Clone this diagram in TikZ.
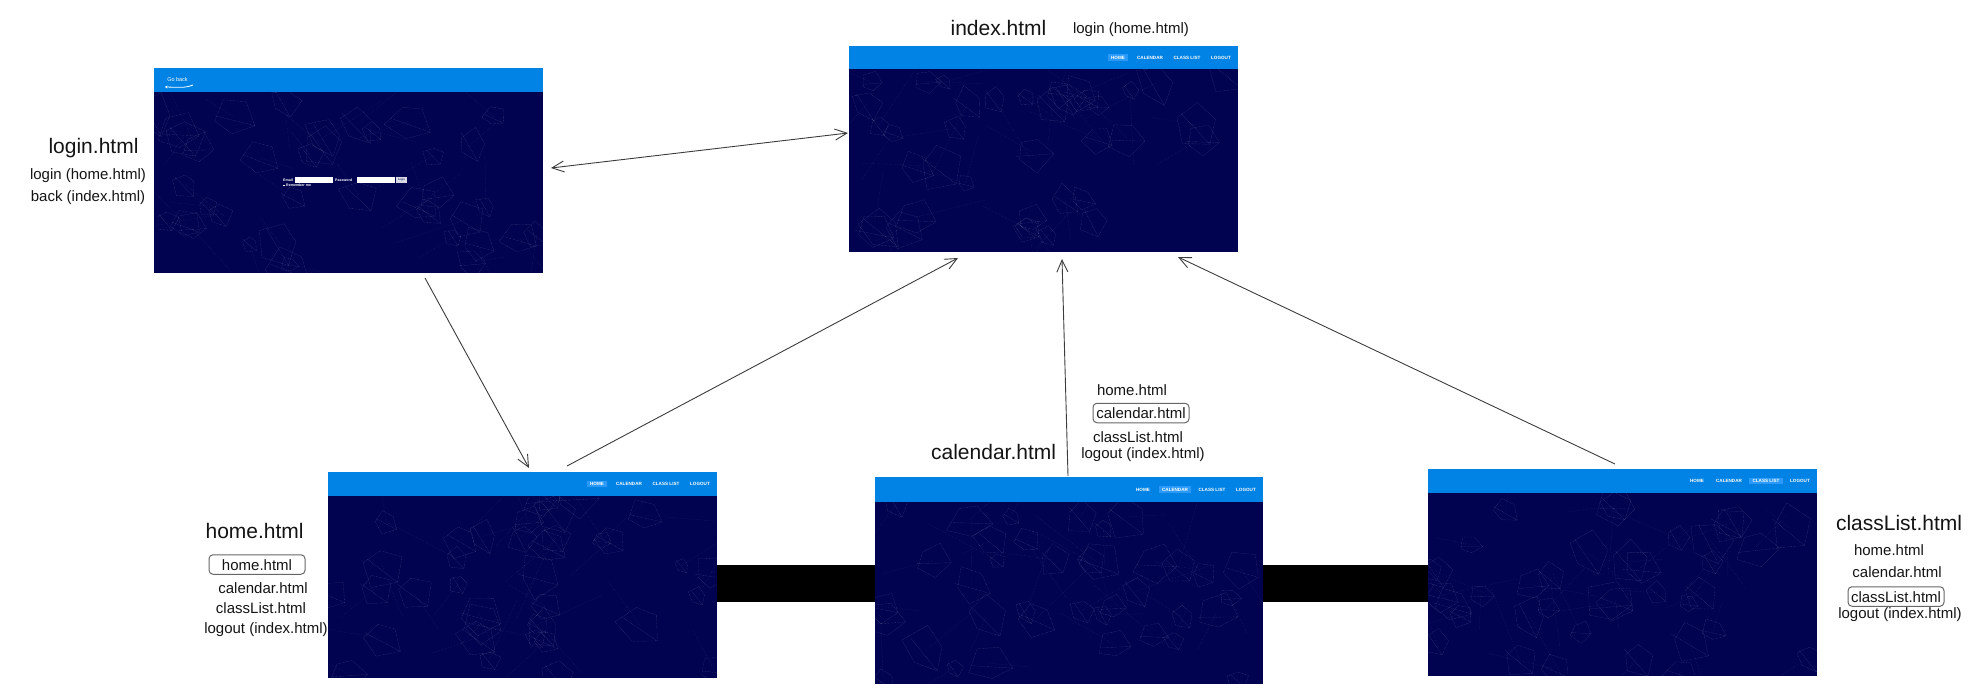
\documentclass[tikz,border=0pt]{standalone}
\usepackage{fontspec}
\setmainfont{Liberation Sans}
\usetikzlibrary{calc,arrows.meta}
\definecolor{navy}{RGB}{1,2,80}
\definecolor{hdrblue}{RGB}{0,131,228}
\definecolor{actblue}{RGB}{42,153,250}
\definecolor{lnk}{RGB}{60,60,60}
\tikzset{
  screen/.style={fill=navy, draw=none, inner sep=0pt, outer sep=0pt, anchor=north west},
  net/.style={draw=white, draw opacity=0.2, line width=0.35pt, dash pattern=on 0.7pt off 0.7pt},
  netlong/.style={draw=white, draw opacity=0.12, line width=0.3pt, dash pattern=on 0.7pt off 0.9pt},
  bigtxt/.style={font=\fontsize{21}{25}\selectfont, inner sep=0pt, anchor=base, text=black!92},
  smalltxt/.style={font=\fontsize{15}{18}\selectfont, inner sep=0pt, anchor=base, text=black!92},
  boxtxt/.style={font=\fontsize{15}{18}\selectfont, text=black!92, draw=black!60, line width=1pt, rounded corners=4pt, minimum width=96pt, minimum height=19.5pt, inner sep=0pt, text height=11pt, text depth=0pt},
  navitem/.style={font=\fontsize{4.6}{5}\bfseries\selectfont, text=white, inner xsep=3.5pt, inner ysep=1.6pt},
  navstate/.style={},
  link/.style={draw=lnk, line width=0.9pt},
  tipone/.style={-{Straight Barb[length=12pt,width=11pt]}},
  tiptwo/.style={{Straight Barb[length=12pt,width=11pt]}-{Straight Barb[length=12pt,width=11pt]}},
  tinytxt/.style={font=\fontsize{3.6}{4}\bfseries\selectfont, text=white, inner sep=0pt, anchor=west},
}
% name, x, y, w, h, header height
\newcommand\screenbox[6]{%
  \node[screen, minimum width=#4pt, minimum height=#5pt] (#1) at (#2,#3) {};
  \begin{scope}
    \clip (#2,#3) rectangle ++(#4,#5);
    \foreach \k in {1,...,38}{
      \pgfmathsetmacro\cx{#2+rnd*#4}
      \pgfmathsetmacro\cy{#3+#6+rnd*(#5-#6)}
      \pgfmathsetmacro\rr{9+rnd*16}
      \pgfmathsetmacro\ph{rnd*72}
      \pgfmathsetmacro\ra{\rr*(0.6+0.5*rnd)}
      \pgfmathsetmacro\rb{\rr*(0.6+0.5*rnd)}
      \pgfmathsetmacro\rc{\rr*(0.6+0.5*rnd)}
      \pgfmathsetmacro\rd{\rr*(0.6+0.5*rnd)}
      \pgfmathsetmacro\aa{\ph+72}
      \pgfmathsetmacro\ab{\ph+144}
      \pgfmathsetmacro\ac{\ph+216}
      \pgfmathsetmacro\ad{\ph+288}
      \pgfmathsetmacro\ae{\ph+160}
      \pgfmathsetmacro\re{\rr*0.8}
      \pgfmathsetmacro\la{rnd*360}
      \pgfmathsetmacro\lr{30+rnd*50}
      \draw[net] (\cx,\cy) +(\ph:\rr) -- +(\aa:\ra) -- +(\ab:\rb) -- +(\ac:\rc)
        -- +(\ad:\rd) -- cycle
        (\cx,\cy) +(\ph:\rr) -- +(\ae:\re);
      \draw[netlong] (\cx,\cy) -- ++(\la:\lr);
    }
  \end{scope}
  \fill[hdrblue] (#1.north west) rectangle ([yshift=-#6pt]#1.north east);
}
% name, active item, y offset of item centre
\newcommand\navbar[3]{%
  \foreach \lab/\off [count=\i] in {HOME/120,CALENDAR/88,CLASS LIST/51,LOGOUT/17}{
    \ifnum\i=#2\relax\tikzset{navstate/.style={fill=actblue}}\else\tikzset{navstate/.style={}}\fi
    \node[navitem,navstate] (#1nav\i) at ([shift={(-\off,#3)}]#1.north east) {\lab};
  }}
\begin{document}
\begin{tikzpicture}[x=1pt,y=-1pt]
\useasboundingbox (0,0) rectangle (1986,697);
\pgfmathsetseed{7}
% screens
\screenbox{login}{154}{68}{389}{205}{24}
\screenbox{index}{849}{46}{389}{206}{23}
\screenbox{home}{328}{472}{389}{206}{24}
\screenbox{cal}{875}{477}{388}{207}{25}
\screenbox{cls}{1428}{469}{389}{207}{24}
\navbar{index}{1}{11.5}
\navbar{home}{1}{12}
\navbar{cal}{2}{12.5}
\navbar{cls}{3}{12}
% login screen contents
\node[font=\fontsize{5.5}{6}\selectfont, text=white, inner sep=0pt] (goback) at (177.5,79.5) {Go back};
\coordinate (gbA) at (193,85);
\coordinate (gbB) at (165,87);
\draw[white, line width=0.8pt, -{Stealth[length=2.5pt,width=3pt]}] (gbA) .. controls (186,87.5) .. (gbB);
\node[tinytxt] (email) at (283,180) {Email};
\fill[white] (295,177) rectangle (333,183);
\node[tinytxt] (pwd) at (335,180) {Password};
\fill[white] (357,177) rectangle (395,183);
\node[fill=white!85!navy, inner sep=0pt, minimum width=11pt, minimum height=5.5pt, font=\fontsize{2.8}{3}\selectfont, text=navy] (loginbtn) at (401.5,180.2) {Login};
\fill[white] (283,184.6) rectangle ++(1.6,1.6);
\node[tinytxt] (remember) at (286,185.6) {Remember me};
% black bars
\coordinate (bartop) at (0,565);
\coordinate (barbot) at (0,602);
\fill[black] (home.east |- bartop) rectangle (cal.west |- barbot);
\fill[black] (cal.east |- bartop) rectangle (cls.west |- barbot);
% connectors
\draw[link,tiptwo] ([shift={(8,-2.5)}]login.east) -- ([shift={(-1,-16)}]index.west);
\draw[link,tipone] ([shift={(76.5,5)}]login.south) -- ([shift={(6.5,-4)}]home.north);
\draw[link,tipone] ([shift={(44.5,-6)}]home.north) -- ([shift={(-85.5,6)}]index.south);
\draw[link,tipone] ([shift={(-1,-1)}]cal.north) -- ([shift={(18.5,7)}]index.south);
\draw[link,tipone] ([shift={(-7.5,-5)}]cls.north) -- ([shift={(134.5,5)}]index.south);
% labels: login
\node[bigtxt] (tlogin) at (93.5,153) {login.html};
\node[smalltxt] (tlogin1) at (88,179) {login (home.html)};
\node[smalltxt] (tlogin2) at (88,201) {back (index.html)};
% labels: index
\node[bigtxt] (tindex) at (998.5,35) {index.html};
\node[smalltxt] (tindex1) at (1131,33) {login (home.html)};
% labels: home
\node[bigtxt] (thome) at (254.6,538) {home.html};
\node[boxtxt] (thome1) at (257,564.5) {home.html};
\node[smalltxt] (thome2) at (263,593) {calendar.html};
\node[smalltxt] (thome3) at (261,613) {classList.html};
\node[smalltxt] (thome4) at (266,633) {logout (index.html)};
% labels: calendar
\node[bigtxt] (tcal) at (993.6,459) {calendar.html};
\node[smalltxt] (tcal1) at (1132,395) {home.html};
\node[boxtxt] (tcal2) at (1141,413) {calendar.html};
\node[smalltxt] (tcal3) at (1138,442) {classList.html};
\node[smalltxt] (tcal4) at (1143,458) {logout (index.html)};
% labels: classList
\node[bigtxt] (tcls) at (1899,530) {classList.html};
\node[smalltxt] (tcls1) at (1889,555) {home.html};
\node[smalltxt] (tcls2) at (1897,577) {calendar.html};
\node[boxtxt] (tcls3) at (1896,596.5) {classList.html};
\node[smalltxt] (tcls4) at (1900,618) {logout (index.html)};
\end{tikzpicture}
\end{document}
